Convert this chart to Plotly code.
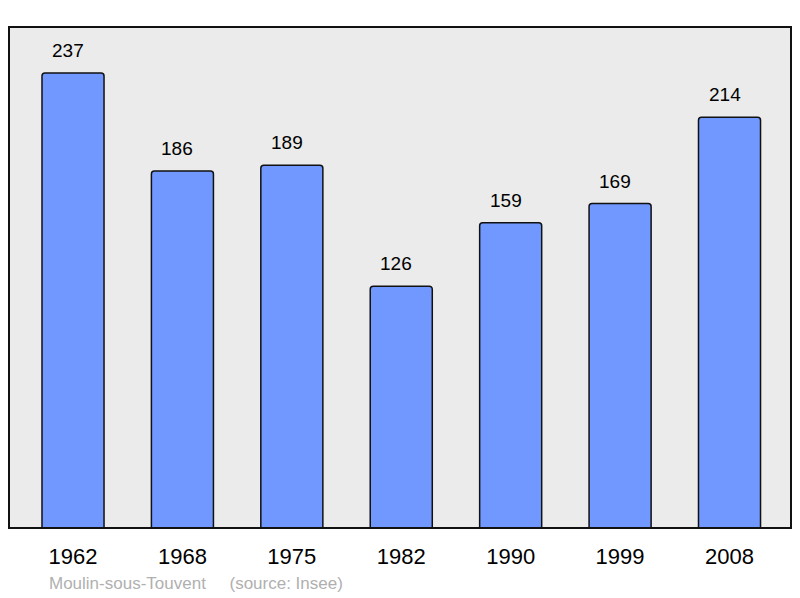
import plotly.graph_objects as go

years = ["1962", "1968", "1975", "1982", "1990", "1999", "2008"]
population = [237, 186, 189, 126, 159, 169, 214]

FONT = "Liberation Sans, Arial, sans-serif"

fig = go.Figure()
fig.add_trace(go.Bar(
    x=list(range(len(years))), y=population, width=0.567,
    marker=dict(color="#7098ff", line=dict(color="#111111", width=1.5), cornerradius=3),
    hoverinfo="skip",
))
for i, v in enumerate(population):
    fig.add_annotation(x=i, y=v, text=str(v), showarrow=False, yanchor="bottom",
                       yshift=10, xshift=-5, font=dict(size=19, color="#000000", family=FONT))

fig.add_annotation(xref="paper", yref="paper", x=(39 - 1) / 782, y=(520 - 575) / 501,
                   xanchor="left", yanchor="middle", showarrow=False,
                   text="Moulin-sous-Touvent &nbsp;&nbsp;&nbsp; (source: Insee)",
                   font=dict(size=17, color="#b0b0b0", family=FONT))

fig.add_shape(type="rect", xref="paper", yref="paper", x0=0, y0=0, x1=1, y1=1,
              line=dict(color="#111111", width=2), layer="above")

fig.update_layout(
    width=784, height=590,
    margin=dict(l=1, r=1, t=19, b=70),
    paper_bgcolor="white", plot_bgcolor="#ebebeb",
    showlegend=False,
    xaxis=dict(range=[-0.585, 6.562], showgrid=False, zeroline=False,
               tickmode="array", tickvals=list(range(len(years))), ticktext=years,
               ticks="", ticklabelstandoff=13,
               tickfont=dict(size=22, color="#000000", family=FONT)),
    yaxis=dict(range=[0, 261], visible=False, showgrid=False, zeroline=False),
)
fig.write_html("out.html")
